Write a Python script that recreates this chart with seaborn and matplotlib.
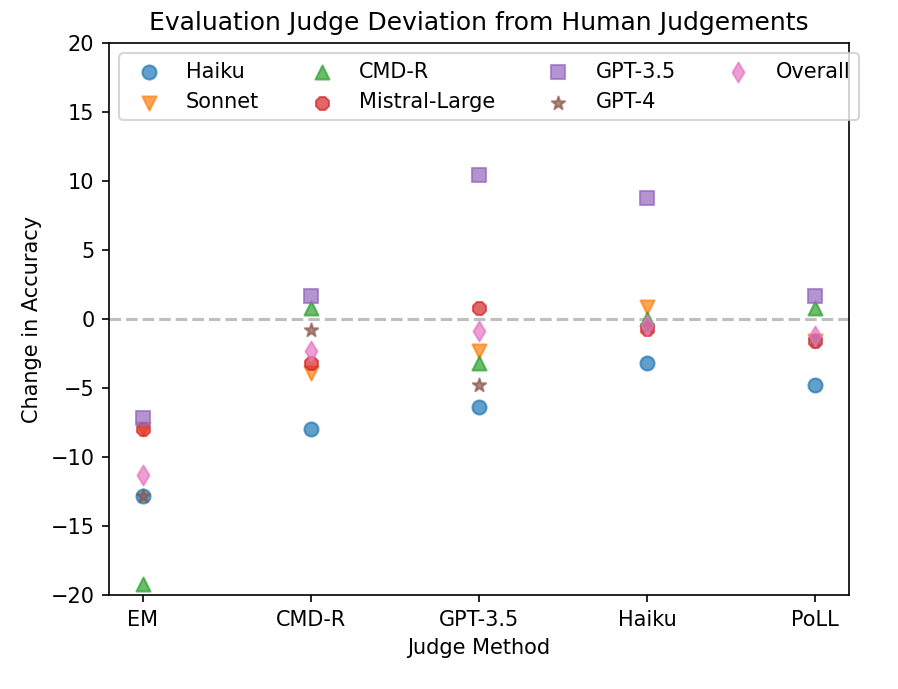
import matplotlib
matplotlib.use('Agg')
import matplotlib.pyplot as plt
import seaborn as sns
import pandas as pd

# Judges on the x axis
judges = ['EM', 'CMD-R', 'GPT-3.5', 'Haiku', 'PoLL']

# Change in accuracy per evaluated model
haiku = [-12.8, -8.0, -6.4, -3.2, -4.8]
sonnet = [-8.0, -3.9, -2.3, 0.85, -1.6]
cmdr = [-19.2, 0.8, -3.2, 0.0, 0.8]
mistral = [-8.0, -3.2, 0.8, -0.7, -1.6]
gpt35 = [-7.2, 1.65, 10.45, 8.8, 1.65]
gpt4 = [-12.8, -0.8, -4.8, -0.5, -1.5]
overall = [-11.3, -2.3, -0.9, -0.4, -1.2]

series = {
    'Haiku': (haiku, 'o'),
    'Sonnet': (sonnet, 'v'),
    'CMD-R': (cmdr, '^'),
    'Mistral-Large': (mistral, '8'),
    'GPT-3.5': (gpt35, 's'),
    'GPT-4': (gpt4, '*'),
    'Overall': (overall, 'd'),
}

colors = sns.color_palette('tab10')

fig = plt.figure(figsize=(898 / 150, 689 / 150), dpi=150)
ax = fig.add_axes([0.1214, 0.1364, 0.8240, 0.8012])

pos = list(range(len(judges)))
for i, (name, (vals, mk)) in enumerate(series.items()):
    df = pd.DataFrame({'x': pos, 'y': vals})
    sns.scatterplot(data=df, x='x', y='y', ax=ax, marker=mk, s=45,
                    color=colors[i], edgecolor=colors[i], linewidth=1,
                    alpha=0.7, label=name)

ax.axhline(0, color='gray', linestyle='--', alpha=0.5, linewidth=1.5, zorder=0)

ax.set_xticks(pos)
ax.set_xticklabels(judges)
ax.set_xlim(-0.2, 4.2)
ax.set_ylim(-20, 20)
ax.set_yticks(range(-20, 21, 5))
ax.set_title('Evaluation Judge Deviation from Human Judgements', fontsize=12)
ax.set_xlabel('Judge Method')
ax.set_ylabel('Change in Accuracy')
ax.legend(loc='upper left', ncol=4)

fig.savefig('out.png', dpi=150)
